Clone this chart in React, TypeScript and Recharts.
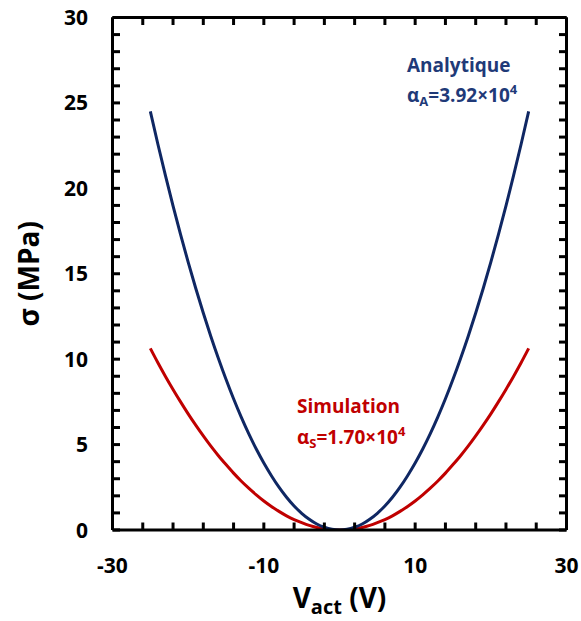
import React from "react";
import { LineChart, Line, XAxis, YAxis } from "recharts";

if (typeof document !== "undefined") {
  document.body.style.margin = "0";
}

const voltage = [
  -25, -24, -23, -22, -21, -20, -19, -18, -17, -16, -15, -14, -13, -12, -11, -10, -9, -8, -7, -6, -5, -4, -3, -2, -1,
  0, 1, 2, 3, 4, 5, 6, 7, 8, 9, 10, 11, 12, 13, 14, 15, 16, 17, 18, 19, 20, 21, 22, 23, 24, 25,
];
const analytique = [
  24.5, 22.58, 20.74, 18.97, 17.29, 15.68, 14.15, 12.7, 11.33, 10.04, 8.82, 7.68, 6.62, 5.64, 4.74, 3.92, 3.18, 2.51, 1.92, 1.41, 0.98, 0.63, 0.35, 0.16, 0.04,
  0, 0.04, 0.16, 0.35, 0.63, 0.98, 1.41, 1.92, 2.51, 3.18, 3.92, 4.74, 5.64, 6.62, 7.68, 8.82, 10.04, 11.33, 12.7, 14.15, 15.68, 17.29, 18.97, 20.74, 22.58, 24.5,
];
const simulation = [
  10.63, 9.79, 8.99, 8.23, 7.5, 6.8, 6.14, 5.51, 4.91, 4.35, 3.83, 3.33, 2.87, 2.45, 2.06, 1.7, 1.38, 1.09, 0.83, 0.61, 0.43, 0.27, 0.15, 0.07, 0.02,
  0, 0.02, 0.07, 0.15, 0.27, 0.43, 0.61, 0.83, 1.09, 1.38, 1.7, 2.06, 2.45, 2.87, 3.33, 3.83, 4.35, 4.91, 5.51, 6.14, 6.8, 7.5, 8.23, 8.99, 9.79, 10.63,
];
const xTicks = [-30, -26, -22, -18, -14, -10, -6, -2, 2, 6, 10, 14, 18, 22, 26, 30];
const xLabels = [-30, -10, 10, 30];
const yTicks = [
  0, 1, 2, 3, 4, 5, 6, 7, 8, 9, 10, 11, 12, 13, 14, 15, 16, 17, 18, 19, 20, 21, 22, 23, 24, 25, 26, 27, 28, 29, 30,
];
const yLabels = [0, 5, 10, 15, 20, 25, 30];

const data = voltage.map((v, i) => ({ v, a: analytique[i], s: simulation[i] }));

const W = 581;
const H = 621;
const PLOT_LEFT = 112.5;
const PLOT_RIGHT = 566.5;
const PLOT_TOP = 17.5;
const PLOT_BOTTOM = 530;

const FONT = "'Open Sans', sans-serif";
const BLUE = "#0f2763";
const TEXT_BLUE = "#1f3a78";
const RED = "#c00000";
const TICK_LEN = 7.5;
const TICK_LINE = { stroke: "#000", strokeWidth: 3 };
const AXIS_LINE = { stroke: "#000", strokeWidth: 3 };

const BottomTick = (props: any) => {
  const { x, payload } = props;
  if (!xLabels.includes(payload.value)) return <g />;
  return (
    <text x={x} y={PLOT_BOTTOM + 43} textAnchor="middle" fontFamily={FONT} fontWeight={700} fontSize={21} fill="#000">
      {payload.value}
    </text>
  );
};
const LeftTick = (props: any) => {
  const { y, payload } = props;
  if (!yLabels.includes(payload.value)) return <g />;
  return (
    <text x={PLOT_LEFT - 24.5} y={y + 7.5} textAnchor="end" fontFamily={FONT} fontWeight={700} fontSize={21} fill="#000">
      {payload.value}
    </text>
  );
};
const NoTick = () => <g />;

const XTitle = (props: any) => {
  const vb = props.viewBox;
  const cx = vb.x + vb.width / 2;
  return (
    <text x={cx} y={PLOT_BOTTOM + 78} textAnchor="middle" fontFamily={FONT} fontWeight={700} fontSize={28} fill="#000">
      V
      <tspan fontSize={20} dy={6}>act</tspan>
      <tspan dy={-6}> (V)</tspan>
    </text>
  );
};
const YTitle = (props: any) => {
  const vb = props.viewBox;
  const cy = vb.y + vb.height / 2;
  const cx = 28;
  return (
    <text
      x={cx}
      y={cy}
      transform={`rotate(-90, ${cx}, ${cy})`}
      textAnchor="middle"
      dominantBaseline="central"
      fontFamily={FONT}
      fontWeight={700}
      fontSize={28}
      fill="#000"
    >
      σ (MPa)
    </text>
  );
};

export default function App() {
  return (
    <div style={{ position: "relative", width: W, height: H, overflow: "hidden" }}>
      <LineChart width={W} height={H} data={data} margin={{ top: 0, right: 0, bottom: 0, left: 0 }}>
        <XAxis
          xAxisId="b"
          dataKey="v"
          type="number"
          domain={[-30, 30]}
          ticks={xTicks}
          interval={0}
          height={H - PLOT_BOTTOM}
          tickSize={-TICK_LEN}
          tickMargin={0}
          tickLine={TICK_LINE}
          axisLine={AXIS_LINE}
          tick={<BottomTick />}
          allowDataOverflow
          label={<XTitle />}
        />
        <XAxis
          xAxisId="t"
          orientation="top"
          dataKey="v"
          type="number"
          domain={[-30, 30]}
          ticks={xTicks}
          interval={0}
          height={PLOT_TOP}
          tickSize={-TICK_LEN}
          tickMargin={0}
          tickLine={TICK_LINE}
          axisLine={AXIS_LINE}
          tick={<NoTick />}
          allowDataOverflow
        />
        <YAxis
          yAxisId="l"
          type="number"
          domain={[0, 30]}
          ticks={yTicks}
          interval={0}
          width={PLOT_LEFT}
          tickSize={-TICK_LEN}
          tickMargin={0}
          tickLine={TICK_LINE}
          axisLine={AXIS_LINE}
          tick={<LeftTick />}
          allowDataOverflow
          label={<YTitle />}
        />
        <YAxis
          yAxisId="r"
          orientation="right"
          type="number"
          domain={[0, 30]}
          ticks={yTicks}
          interval={0}
          width={W - PLOT_RIGHT}
          tickSize={-TICK_LEN}
          tickMargin={0}
          tickLine={TICK_LINE}
          axisLine={AXIS_LINE}
          tick={<NoTick />}
          allowDataOverflow
        />
        <Line
          xAxisId="b"
          yAxisId="l"
          type="monotone"
          dataKey="s"
          stroke={RED}
          strokeWidth={3}
          dot={false}
          isAnimationActive={false}
        />
        <Line
          xAxisId="b"
          yAxisId="l"
          type="monotone"
          dataKey="a"
          stroke={BLUE}
          strokeWidth={3}
          dot={false}
          isAnimationActive={false}
        />
      </LineChart>
      <svg width={W} height={H} style={{ position: "absolute", left: 0, top: 0, pointerEvents: "none" }}>
        <g fontFamily={FONT} fontWeight={700} fontSize={19}>
          <text x={407} y={72} fill={TEXT_BLUE}>Analytique</text>
          <text x={407} y={102} fill={TEXT_BLUE}>
            α<tspan fontSize={13} dy={4}>A</tspan>
            <tspan dy={-4}>=3.92×10</tspan>
            <tspan fontSize={13} dy={-8}>4</tspan>
          </text>
          <text x={297} y={413} fill={RED}>Simulation</text>
          <text x={297} y={444} fill={RED}>
            α<tspan fontSize={13} dy={4}>S</tspan>
            <tspan dy={-4}>=1.70×10</tspan>
            <tspan fontSize={13} dy={-8}>4</tspan>
          </text>
        </g>
      </svg>
    </div>
  );
}
